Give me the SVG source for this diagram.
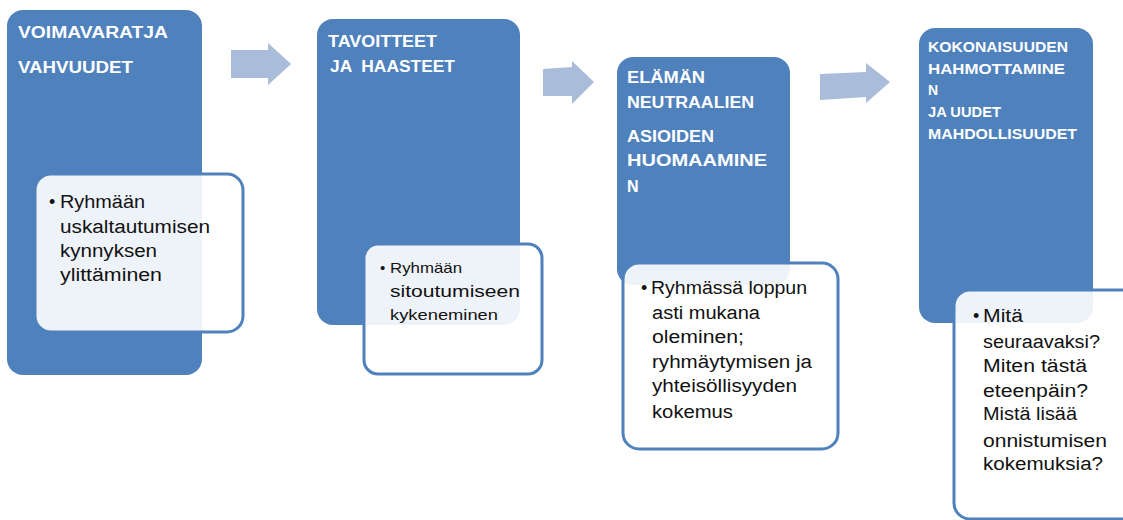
<svg xmlns="http://www.w3.org/2000/svg" width="1123" height="520" viewBox="0 0 1123 520">
<style>
.main{fill:#4f81bd;}
.inner{fill:#ffffff;fill-opacity:0.9;stroke:#4f81bd;stroke-width:3;}
.arrow{fill:#a9bcd9;}
.title{font-family:"Liberation Sans",Arial,sans-serif;font-weight:bold;fill:#ffffff;white-space:pre;}
.body{font-family:"Liberation Sans",Arial,sans-serif;fill:#111111;}
</style>
<rect width="1123" height="520" fill="#ffffff"/>
<g id="connectors">
<polygon class="arrow" points="231,50 268,50 268,43 291,64 268,85 268,78 231,78"/>
<polygon class="arrow" points="543,69 572,67 572,61 594,82 572,104 572,96 543,96"/>
<polygon class="arrow" points="820,74 866,72 866,63 890,82 866,103 866,97 820,100"/>
</g>
<g id="node1">
<rect class="main" x="7" y="10" width="195" height="365" rx="16"/>
<text class="title" font-size="16" x="18" y="38" textLength="150" lengthAdjust="spacingAndGlyphs">VOIMAVARATJA</text>
<text class="title" font-size="16" x="18" y="73" textLength="115" lengthAdjust="spacingAndGlyphs">VAHVUUDET</text>
<rect class="inner" x="35" y="174" width="208" height="158" rx="16"/>
<g class="body" font-size="18">
<text x="49" y="208">•</text>
<text x="60" y="208" textLength="85" lengthAdjust="spacingAndGlyphs">Ryhmään</text>
<text x="60" y="233" textLength="150" lengthAdjust="spacingAndGlyphs">uskaltautumisen</text>
<text x="60" y="257" textLength="97" lengthAdjust="spacingAndGlyphs">kynnyksen</text>
<text x="60" y="281" textLength="102" lengthAdjust="spacingAndGlyphs">ylittäminen</text>
</g>
</g>
<g id="node2">
<rect class="main" x="317" y="19" width="203" height="306" rx="16"/>
<text class="title" font-size="16" x="328" y="47" textLength="109" lengthAdjust="spacingAndGlyphs">TAVOITTEET</text>
<text class="title" font-size="16" x="330" y="72" textLength="125" lengthAdjust="spacingAndGlyphs" xml:space="preserve">JA  HAASTEET</text>
<rect class="inner" x="364" y="244" width="178" height="130" rx="14"/>
<g class="body">
<text x="380" y="273" font-size="15">•</text>
<text x="390" y="273" font-size="15" textLength="72" lengthAdjust="spacingAndGlyphs">Ryhmään</text>
<text x="390" y="297" font-size="17" textLength="130" lengthAdjust="spacingAndGlyphs">sitoutumiseen</text>
<text x="390" y="320" font-size="15" textLength="108" lengthAdjust="spacingAndGlyphs">kykeneminen</text>
</g>
</g>
<g id="node3">
<rect class="main" x="617" y="57" width="173" height="228" rx="16"/>
<text class="title" font-size="16" x="627" y="83" textLength="78" lengthAdjust="spacingAndGlyphs">ELÄMÄN</text>
<text class="title" font-size="16" x="627" y="108" textLength="127" lengthAdjust="spacingAndGlyphs">NEUTRAALIEN</text>
<text class="title" font-size="16" x="627" y="142" textLength="87" lengthAdjust="spacingAndGlyphs">ASIOIDEN</text>
<text class="title" font-size="16" x="627" y="166" textLength="140" lengthAdjust="spacingAndGlyphs">HUOMAAMINE</text>
<text class="title" font-size="16" x="627" y="192">N</text>
<rect class="inner" x="623" y="263" width="215" height="186" rx="16"/>
<g class="body" font-size="18">
<text x="641" y="294">•</text>
<text x="651" y="294" textLength="156" lengthAdjust="spacingAndGlyphs">Ryhmässä loppun</text>
<text x="652" y="319" textLength="108" lengthAdjust="spacingAndGlyphs">asti mukana</text>
<text x="652" y="343" textLength="92" lengthAdjust="spacingAndGlyphs">oleminen;</text>
<text x="652" y="368" textLength="160" lengthAdjust="spacingAndGlyphs">ryhmäytymisen ja</text>
<text x="652" y="392" textLength="145" lengthAdjust="spacingAndGlyphs">yhteisöllisyyden</text>
<text x="652" y="418" textLength="81" lengthAdjust="spacingAndGlyphs">kokemus</text>
</g>
</g>
<g id="node4">
<rect class="main" x="919" y="28" width="174" height="295" rx="16"/>
<text class="title" font-size="14" x="928" y="52" textLength="140" lengthAdjust="spacingAndGlyphs">KOKONAISUUDEN</text>
<text class="title" font-size="14" x="928" y="74" textLength="137" lengthAdjust="spacingAndGlyphs">HAHMOTTAMINE</text>
<text class="title" font-size="14" x="928" y="95">N</text>
<text class="title" font-size="14" x="928" y="117" textLength="73" lengthAdjust="spacingAndGlyphs">JA UUDET</text>
<text class="title" font-size="14" x="928" y="139" textLength="149" lengthAdjust="spacingAndGlyphs">MAHDOLLISUUDET</text>
<rect class="inner" x="954" y="290" width="190" height="229" rx="16"/>
<g class="body" font-size="18">
<text x="973" y="322">•</text>
<text x="983" y="322" textLength="40" lengthAdjust="spacingAndGlyphs">Mitä</text>
<text x="983" y="348" textLength="117" lengthAdjust="spacingAndGlyphs">seuraavaksi?</text>
<text x="983" y="372" textLength="104" lengthAdjust="spacingAndGlyphs">Miten tästä</text>
<text x="983" y="397" textLength="105" lengthAdjust="spacingAndGlyphs">eteenpäin?</text>
<text x="983" y="420" textLength="94" lengthAdjust="spacingAndGlyphs">Mistä lisää</text>
<text x="983" y="447" textLength="124" lengthAdjust="spacingAndGlyphs">onnistumisen</text>
<text x="983" y="470" textLength="120" lengthAdjust="spacingAndGlyphs">kokemuksia?</text>
</g>
</g>
</svg>
